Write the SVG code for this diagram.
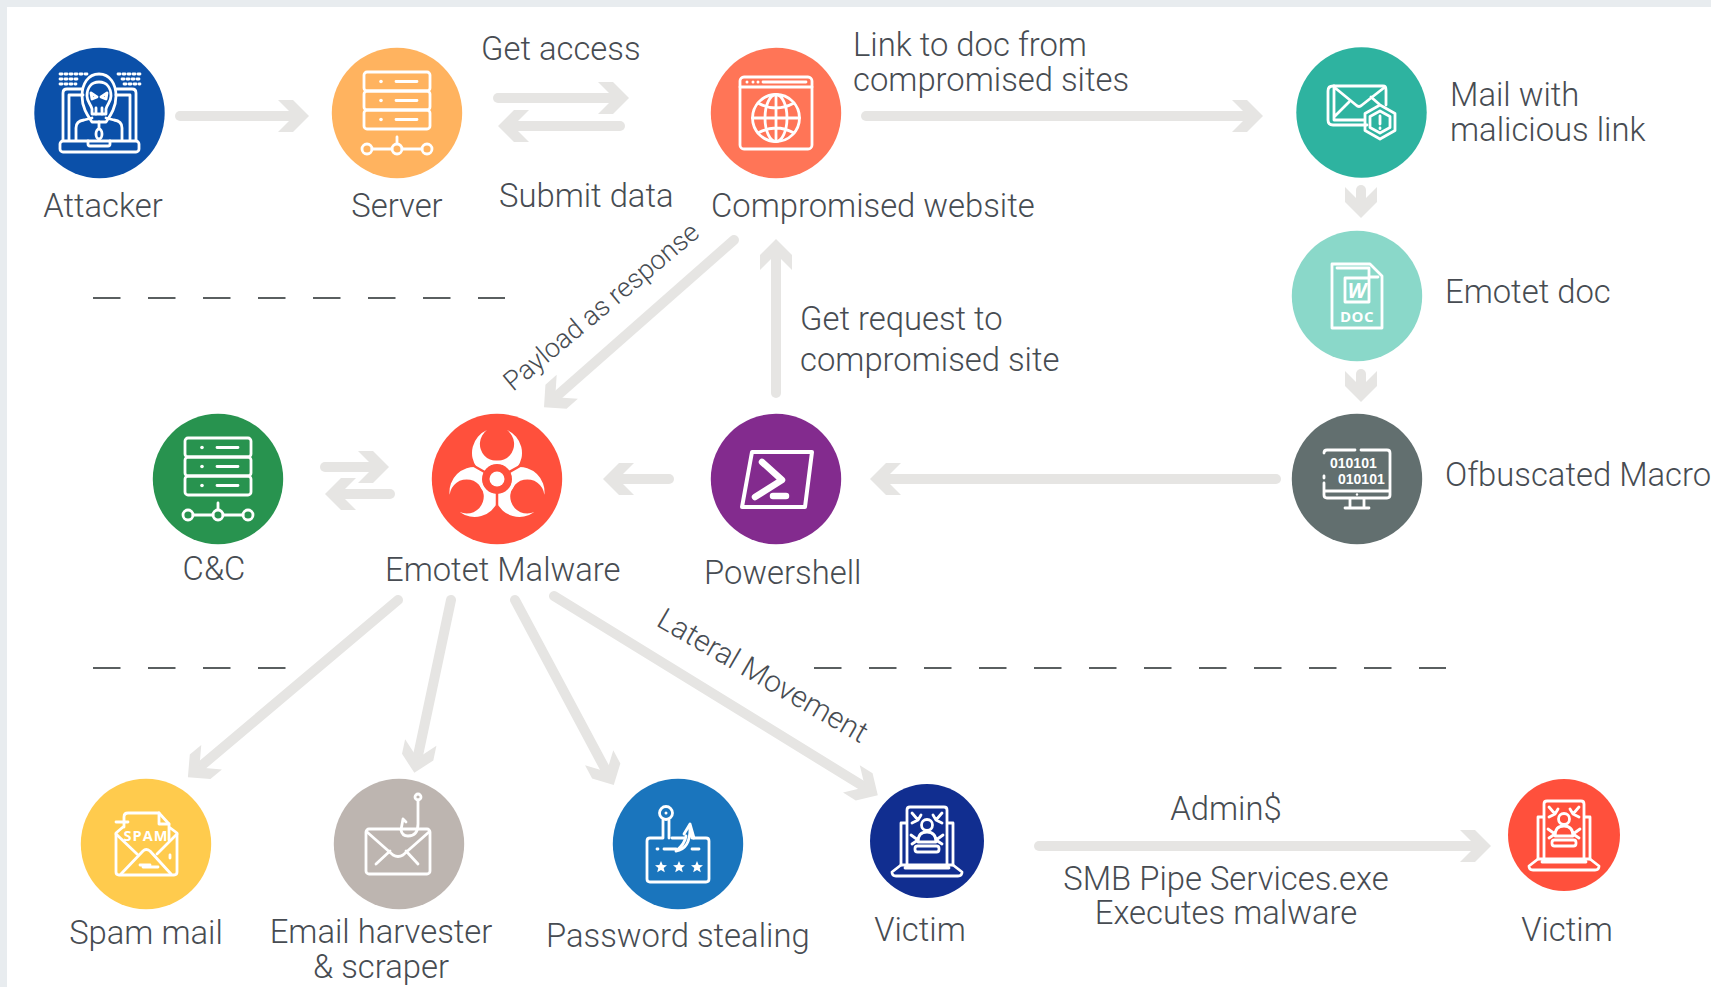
<svg xmlns="http://www.w3.org/2000/svg" width="1711" height="987" viewBox="0 0 1711 987">
<style>
text{font-family:Roboto,"Liberation Sans",sans-serif;font-weight:300;font-size:32.8px;fill:#474c52}
.m{text-anchor:middle}
.ln{fill:none;stroke:#fff;stroke-width:2.8;stroke-linecap:round;stroke-linejoin:round}
.w{fill:#fff;stroke:none}
text.ib{font-family:"Open Sans","DejaVu Sans",sans-serif;font-weight:700;fill:#fff;text-anchor:middle}
text.word{font-size:21px;font-style:italic}
text.doc{font-size:15px;letter-spacing:.5px}
text.spam{font-size:14.5px;letter-spacing:1px}
text.bin{font-size:14px;font-family:"Liberation Sans",sans-serif;text-anchor:start}
text.pay{font-size:27px}
text.lat{font-size:30px}
.c{fill:none;stroke:#e6e5e3;stroke-width:10;stroke-linecap:round;marker-end:url(#ch)}
.d{fill:none;stroke:#5a5f60;stroke-width:2;stroke-dasharray:27.5 27.5}
</style>
<defs>
<marker id="ch" markerUnits="userSpaceOnUse" markerWidth="40" markerHeight="40" refX="25" refY="20" orient="auto" overflow="visible">
<path d="M2 4H17L33 20L17 36H2L18 20Z" fill="#e6e5e3"/>
</marker>
<g id="srv">
<rect class="ln" x="-33" y="-41" width="66" height="19" rx="3"/>
<rect class="ln" x="-33" y="-22" width="66" height="19" rx="3"/>
<rect class="ln" x="-33" y="-3" width="66" height="19" rx="3"/>
<circle class="w" cx="-16" cy="-31.500" r="1.800"/><circle class="w" cx="-16" cy="-12.500" r="1.800"/><circle class="w" cx="-16" cy="6.500" r="1.800"/>
<path class="ln" d="M-1 -31.500H20M-1 -12.500H20M-1 6.500H20M0 24V30M-25 36H-5M5 36H25"/>
<circle class="ln" cx="-30" cy="36" r="5"/><circle class="ln" cx="0" cy="36" r="5"/><circle class="ln" cx="30" cy="36" r="5"/>
</g>
<g id="vic">
<path class="ln" d="M-20 24V-31Q-20 -34 -17 -34H17Q20 -34 20 -31V24M-20 -18H-26V24M20 -18H26V24"/>
<path class="ln" d="M-26 24L-35 31Q-35 35 -31 35H31Q35 35 35 31L26 24ZM-22 27H22"/>
<rect class="ln" x="-12" y="5" width="24" height="6" rx="2.500"/>
<circle class="ln" cx="0" cy="-16" r="5.500"/>
<path class="ln" d="M-9 1Q-9 -9 0 -9Q9 -9 9 1H-9M-15 -28L-9 -21L-15 -18M-9 -21L-6 -26M15 -28L9 -21L15 -18M9 -21L6 -26M-16 -6L-9 -1L-15 3M16 -6L9 -1L15 3"/>
</g>
<path id="lobe" d="M-10 -48.900A25 25 0 1 0 10 -48.900A17.100 17.100 0 1 1 -10 -48.900Z" fill="#fff"/>
<polygon id="star" points="0,-6 1.700,-1.900 6,-1.800 2.700,1 3.800,5.200 0,2.900 -3.800,5.200 -2.700,1 -6,-1.800 -1.700,-1.900" fill="#fff"/>
</defs>

<rect width="1711" height="987" fill="#fff"/>
<path d="M0 0H1711V7H7V987H0Z" fill="#e8ecef"/>

<g id="dividers">
<line class="d" x1="93" y1="298" x2="505" y2="298"/>
<line class="d" x1="93" y1="668" x2="286" y2="668"/>
<line class="d" x1="814" y1="668" x2="1446" y2="668"/>
</g>

<g id="connectors">
<line class="c" x1="180" y1="116" x2="301" y2="116"/>
<line class="c" x1="498" y1="98" x2="621" y2="98"/>
<line class="c" x1="620" y1="126" x2="506" y2="126"/>
<line class="c" x1="866" y1="116" x2="1255" y2="116"/>
<line class="c" x1="1361" y1="190" x2="1361" y2="210"/>
<line class="c" x1="1361" y1="374" x2="1361" y2="394"/>
<line class="c" x1="1276" y1="479" x2="878" y2="479"/>
<line class="c" x1="669" y1="479" x2="611" y2="479"/>
<line class="c" x1="325" y1="467" x2="381" y2="467"/>
<line class="c" x1="390" y1="494" x2="333" y2="494"/>
<line class="c" x1="776" y1="393" x2="776" y2="247"/>
<line class="c" x1="734" y1="240" x2="550" y2="402"/>
<line class="c" x1="398" y1="600" x2="194" y2="772"/>
<line class="c" x1="451" y1="600" x2="416" y2="765"/>
<line class="c" x1="515" y1="600" x2="610" y2="778"/>
<line class="c" x1="554" y1="596" x2="871" y2="791"/>
<line class="c" x1="1039" y1="846" x2="1483" y2="846"/>
</g>

<g id="connector-labels">
<text x="481" y="60">Get access</text>
<text x="499" y="207">Submit data</text>
<text x="853" y="56">Link to doc from</text>
<text x="853" y="91">compromised sites</text>
<text x="800" y="330">Get request to</text>
<text x="800" y="371">compromised site</text>
<text class="pay" transform="translate(513 392) rotate(-39.800)">Payload as response</text>
<text class="lat" transform="translate(655 625) rotate(30)">Lateral Movement</text>
<text class="m" x="1226" y="820">Admin$</text>
<text class="m" x="1226" y="890">SMB Pipe Services.exe</text>
<text class="m" x="1226" y="924">Executes malware</text>
</g>

<g id="attacker">
<circle cx="99.500" cy="113" r="65.200" fill="#0b50a9"/>
<path class="ln" stroke-dasharray="2 3" d="M60 74H88M60 79H80M60 84H76M118 74H140M122 79H140M124 84H140"/>
<path class="ln" d="M63 140V93Q63 89 67 89H82M117 89H132Q136 89 136 93V140M69 140V95H83M116 95H130V140"/>
<rect class="ln" x="60" y="141" width="79" height="11" rx="3"/>
<path class="ln" d="M88 141V144Q88 146 90 146H108Q110 146 110 144V141"/>
<path class="ln" d="M99 74C88 74 82 84 82 96C82 108 88 116 92 122H106C110 116 116 108 116 96C116 84 110 74 99 74Z"/>
<path class="ln" d="M99 82C91 82 87 88 87 96C87 102 91 104 92 109V114H106V109C107 104 111 102 111 96C111 88 107 82 99 82Z"/>
<path class="ln" d="M91 93L97 97L92 99ZM107 93L101 97L106 99ZM96 108V114M102 108V114"/>
<path class="ln" d="M76 140V128Q76 121 84 120L92 118M122 140V128Q122 121 114 120L106 118M99 122V128"/>
<ellipse class="ln" cx="99" cy="134" rx="3" ry="5"/>
<text class="m" x="103" y="217">Attacker</text>
</g>

<g id="server">
<circle cx="397" cy="113" r="65.200" fill="#ffb35f"/>
<use href="#srv" x="397" y="113"/>
<text class="m" x="397" y="217">Server</text>
</g>

<g id="compromised-website">
<circle cx="776" cy="113" r="65.200" fill="#ff7557"/>
<rect class="ln" x="740" y="77" width="72" height="72" rx="4"/>
<path class="ln" d="M740 87H812M763 82H806"/>
<circle class="w" cx="747" cy="82" r="1.500"/><circle class="w" cx="753" cy="82" r="1.500"/><circle class="w" cx="758" cy="82" r="1.500"/>
<circle class="ln" cx="776" cy="118" r="23.500"/>
<ellipse class="ln" cx="776" cy="118" rx="11" ry="23.500"/>
<path class="ln" d="M776 94.500V141.500M752.500 118H799.500M758 103Q776 113 794 103M758 133Q776 123 794 133"/>
<text x="711" y="217">Compromised website</text>
</g>

<g id="mail">
<circle cx="1361.500" cy="112.500" r="65.200" fill="#2eb3a0"/>
<path class="ln" d="M1367 125H1333Q1328 125 1328 120V91Q1328 86 1333 86H1383Q1386 86 1386 90V105"/>
<path class="ln" d="M1334 86V120H1364M1334 87L1356 105Q1359 108 1362 105L1385 87M1334 117L1349 102M1379 104L1371 97"/>
<path class="ln" d="M1380 105L1395 113.500V130.500L1380 139L1365 130.500V113.500Z"/>
<path class="ln" d="M1380 111L1390 116.500V127.500L1380 133L1370 127.500V116.500Z"/>
<path class="ln" d="M1380 116V124M1380 128V128.500"/>
<text x="1450" y="106">Mail with</text>
<text x="1450" y="141">malicious link</text>
</g>

<g id="emotet-doc">
<circle cx="1357" cy="296" r="65.200" fill="#8ad8c9"/>
<path class="ln" d="M1332 264H1370L1382 276V328H1332ZM1337 268H1369V277H1378"/>
<rect class="ln" x="1345" y="278" width="24" height="24"/>
<text class="ib word" x="1357" y="298">W</text>
<text class="ib doc" x="1357" y="322">DOC</text>
<text x="1445" y="303">Emotet doc</text>
</g>

<g id="obfuscated-macro">
<circle cx="1357" cy="479" r="65.200" fill="#626f6f"/>
<path class="ln" d="M1324 453Q1324 450 1327 450H1355M1361 450H1387Q1390 450 1390 453V495Q1390 498 1387 498H1327Q1324 498 1324 495V483M1324 478V476M1324 491H1390M1350 498V508M1364 498V508M1345 508H1369"/>
<circle class="w" cx="1357" cy="494.500" r="1.200"/>
<text class="ib bin" x="1330" y="467.500">010101</text>
<text class="ib bin" x="1338" y="483.500">010101</text>
<text x="1445" y="486">Ofbuscated Macro</text>
</g>

<g id="cnc">
<circle cx="218" cy="479" r="65.200" fill="#28934f"/>
<use href="#srv" x="218" y="479"/>
<text class="m" x="214" y="580">C&amp;C</text>
</g>

<g id="emotet-malware">
<circle cx="497" cy="479" r="65.200" fill="#ff503c"/>
<g transform="translate(497 479)">
<use href="#lobe"/><use href="#lobe" transform="rotate(120)"/><use href="#lobe" transform="rotate(240)"/>
<circle r="15" fill="#ff503c"/>
<circle r="17" fill="none" stroke="#fff" stroke-width="3"/>
<circle r="7.500" fill="#fff"/>
<path d="M0 9V26M-8 -4.500L-23 -13M8 -4.500L23 -13" stroke="#ff503c" stroke-width="2.500"/>
</g>
<text x="385" y="581">Emotet Malware</text>
</g>

<g id="powershell">
<circle cx="776" cy="479" r="65.200" fill="#832b8e"/>
<path d="M752 452H812L805 507H742Z" fill="none" stroke="#fff" stroke-width="4" stroke-linejoin="round"/>
<path d="M762 462L782 480L755 497M773 496H786" fill="none" stroke="#fff" stroke-width="6.500" stroke-linecap="round" stroke-linejoin="round"/>
<text x="704" y="584">Powershell</text>
</g>

<g id="spam-mail">
<circle cx="146" cy="844" r="65.200" fill="#ffcb4d"/>
<path class="ln" d="M124 827V817Q124 813 128 813H159L169 824V840M123 827L116 833V872Q116 875 119 875H174Q177 875 177 872V833L169 827"/>
<path class="ln" d="M116 834L137 854M177 834L157 854M121 874L143 851Q146 848 150 851L171 874M140 865H150M143 867H158M170 855V858M116 822H128M159 813V824H169"/>
<text class="ib spam" x="146" y="841">SPAM</text>
<text class="m" x="146" y="944">Spam mail</text>
</g>

<g id="email-harvester">
<circle cx="399" cy="844" r="65.200" fill="#bdb5b0"/>
<rect class="ln" x="366" y="829" width="64" height="45" rx="3"/>
<path class="ln" d="M367 832L393 855Q398 858 403 855L429 832M376 864L390 851M418 864L406 851"/>
<circle class="ln" cx="418" cy="797" r="3"/>
<path class="ln" d="M418 800V824Q418 836 408 836Q402 836 401 830L403 819L406 822"/>
<text class="m" x="381" y="943">Email harvester</text>
<text class="m" x="381" y="978">&amp; scraper</text>
</g>

<g id="password-stealing">
<circle cx="678" cy="844" r="65.200" fill="#1a75bd"/>
<path class="ln" d="M663 838H650Q647 838 647 841V879Q647 882 650 882H706Q709 882 709 879V841Q709 838 706 838H692M684 838H672M669 838V820M663 838V820"/>
<circle class="ln" cx="666" cy="813" r="6.500"/>
<circle class="w" cx="666" cy="813" r="1.500"/>
<path class="ln" d="M657 849H658M664 849H676M692 849H699"/>
<path class="ln" d="M676 851Q690 849 690 829L691 836M684 834L690 824L694 838M676 851Q685 844 686 836"/>
<use href="#star" x="661" y="867"/><use href="#star" x="679" y="867"/><use href="#star" x="697" y="867"/>
<text x="546" y="947">Password stealing</text>
</g>

<g id="victim-1">
<circle cx="927" cy="841" r="57" fill="#112e90"/>
<use href="#vic" x="927" y="841"/>
<text class="m" x="920" y="941">Victim</text>
</g>

<g id="victim-2">
<circle cx="1564" cy="835" r="56" fill="#ff503c"/>
<use href="#vic" x="1564" y="835"/>
<text class="m" x="1567" y="941">Victim</text>
</g>
</svg>
